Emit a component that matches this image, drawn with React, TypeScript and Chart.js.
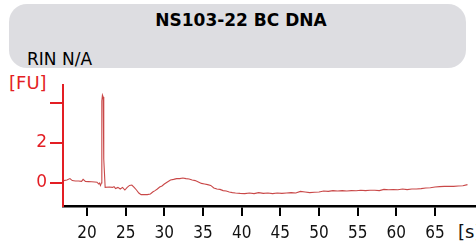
import React, { useEffect, useRef } from "react";
import { Chart, registerables } from "chart.js";

Chart.register(...registerables);

const TITLE = "NS103-22 BC DNA";
const SUBTITLE = "RIN N/A";
const Y_UNIT = "[FU]";
const X_UNIT = "[s]";

const TIMES: number[] = [
  17.0, 17.4, 17.8, 18.1, 18.5, 18.9, 19.3, 19.5, 19.8, 20.2, 20.6, 21.0, 21.3, 21.5, 21.6, 21.75, 21.85,
  21.92, 22.0, 22.1, 22.17, 22.26, 22.35, 22.9, 23.3, 23.5, 23.7, 24.0, 24.3, 24.6, 24.9, 25.2, 25.5,
  25.8, 26.1, 26.4, 26.7, 27.0, 27.4, 27.8, 28.2, 28.5, 28.8, 29.1, 29.4, 29.7, 30.0, 30.4, 30.8, 31.2,
  31.6, 32.0, 32.4, 32.8, 33.2, 33.6, 34.0, 34.4, 34.8, 35.2, 35.6, 36.0, 36.4, 36.8, 37.2, 37.6, 38.0,
  38.4, 38.8, 39.2, 39.8, 40.4, 41.0, 41.6, 42.2, 42.8, 43.4, 44.0, 44.6, 45.2, 45.8, 46.4, 47.0, 47.6,
  48.2, 48.8, 49.4, 50.0, 50.6, 51.2, 51.8, 52.4, 53.0, 53.6, 54.2, 54.8, 55.4, 56.0, 56.6, 57.2, 57.8,
  58.4, 59.0, 59.6, 60.2, 60.8, 61.4, 62.0, 62.6, 63.2, 63.8, 64.4, 65.0, 65.6, 66.2, 66.8, 67.4, 68.0,
  68.6, 69.2,
];

const FU: number[] = [
  0.12, 0.15, 0.22, 0.12, 0.1, 0.1, 0.08, 0.18, 0.08, 0.07, 0.06, 0.05, 0.04, -0.05, 0.0, -0.12, 0.0,
  4.1, 4.4, 4.3, 1.2, 0.5, -0.22, -0.2, -0.22, -0.18, -0.28, -0.22, -0.3, -0.22, -0.35, -0.22, -0.12,
  -0.1, -0.22, -0.35, -0.5, -0.58, -0.58, -0.58, -0.55, -0.45, -0.38, -0.3, -0.2, -0.15, -0.05, 0.05, 0.15, 0.18,
  0.22, 0.22, 0.25, 0.22, 0.2, 0.15, 0.12, 0.05, -0.02, -0.05, -0.08, -0.12, -0.25, -0.3, -0.32, -0.38, -0.4,
  -0.45, -0.48, -0.5, -0.52, -0.53, -0.5, -0.53, -0.48, -0.52, -0.5, -0.53, -0.5, -0.52, -0.5, -0.48, -0.5, -0.42,
  -0.45, -0.48, -0.46, -0.45, -0.4, -0.42, -0.38, -0.4, -0.38, -0.4, -0.38, -0.39, -0.36, -0.38, -0.36, -0.36, -0.38,
  -0.32, -0.34, -0.33, -0.34, -0.3, -0.33, -0.3, -0.3, -0.28, -0.25, -0.24, -0.2, -0.18, -0.17, -0.17, -0.17, -0.15,
  -0.14, -0.08,
];

const X_TICKS: number[] = [20, 25, 30, 35, 40, 45, 50, 55, 60, 65];
const Y_TICKS: number[] = [0, 2, 4];
const Y_LABELED: number[] = [0, 2];

const RED = "#e31e24";
const LINE = "#c94848";
const FONT = "'DejaVu Sans Condensed', 'DejaVu Sans', sans-serif";
const FONT_WIDE = "'DejaVu Sans', sans-serif";

export default function App() {
  const ref = useRef<HTMLCanvasElement | null>(null);

  useEffect(() => {
    document.body.style.margin = "0";
    const canvas = ref.current;
    if (!canvas) return;
    const chart = new Chart(canvas, {
      type: "line",
      data: {
        datasets: [
          {
            data: TIMES.map((t, i) => ({ x: t, y: FU[i] })),
            borderColor: LINE,
            borderWidth: 1.1,
            pointRadius: 0,
            tension: 0,
            fill: false,
          },
        ],
      },
      options: {
        animation: false,
        responsive: false,
        maintainAspectRatio: false,
        layout: { padding: { top: 85, right: 0, left: 0, bottom: 0 } },
        plugins: { legend: { display: false }, tooltip: { enabled: false }, title: { display: false } },
        scales: {
          x: {
            type: "linear",
            min: 16.9,
            max: 70.3,
            afterBuildTicks: (s: any) => {
              s.ticks = X_TICKS.map((v) => ({ value: v }));
            },
            afterFit: (s: any) => {
              s.height = 42;
            },
            grid: { display: true, drawOnChartArea: false, drawTicks: true, tickLength: 10, color: "#000", lineWidth: 2 },
            border: { display: true, color: "#000", width: 2.5 },
            ticks: { color: "#111", font: { size: 17, family: FONT }, padding: 7, maxRotation: 0, autoSkip: false },
          },
          y: {
            type: "linear",
            min: -1.15,
            max: 4.9,
            afterBuildTicks: (s: any) => {
              s.ticks = Y_TICKS.map((v) => ({ value: v }));
            },
            afterFit: (s: any) => {
              s.width = 63;
            },
            grid: { display: true, drawOnChartArea: false, drawTicks: true, tickLength: 13, color: RED, lineWidth: 2 },
            border: { display: true, color: RED, width: 2 },
            ticks: {
              color: RED,
              font: { size: 17, family: FONT_WIDE },
              padding: 3,
              autoSkip: false,
              callback: (v: any) => (Y_LABELED.includes(Number(v)) ? String(v) : ""),
            },
          },
        },
      },
    });
    return () => chart.destroy();
  }, []);

  return (
    <div style={{ position: "absolute", left: 0, top: 0, width: 476, height: 248, overflow: "hidden", background: "#fff", fontFamily: FONT }}>
      <div
        style={{
          position: "absolute",
          left: 9,
          top: 4,
          width: 457,
          height: 64,
          background: "#dddde1",
          borderRadius: 18,
        }}
      />
      <div style={{ position: "absolute", left: 0, width: 482, top: 10, textAlign: "center", fontWeight: "bold", fontSize: 17, color: "#000", fontFamily: FONT_WIDE, whiteSpace: "nowrap" }}>
        {TITLE}
      </div>
      <div style={{ position: "absolute", left: 27, top: 49, fontSize: 17, color: "#000", fontFamily: FONT_WIDE, whiteSpace: "nowrap" }}>
        {SUBTITLE}
      </div>
      <div style={{ position: "absolute", left: 9, top: 72, fontSize: 18, color: RED, fontFamily: FONT_WIDE, whiteSpace: "nowrap" }}>{Y_UNIT}</div>
      <div style={{ position: "absolute", left: 458, top: 221, fontSize: 18, color: "#111", fontFamily: FONT_WIDE, whiteSpace: "nowrap" }}>{X_UNIT}</div>
      <canvas ref={ref} width={476} height={248} style={{ position: "absolute", left: 0, top: 0, width: 476, height: 248 }} />
    </div>
  );
}
